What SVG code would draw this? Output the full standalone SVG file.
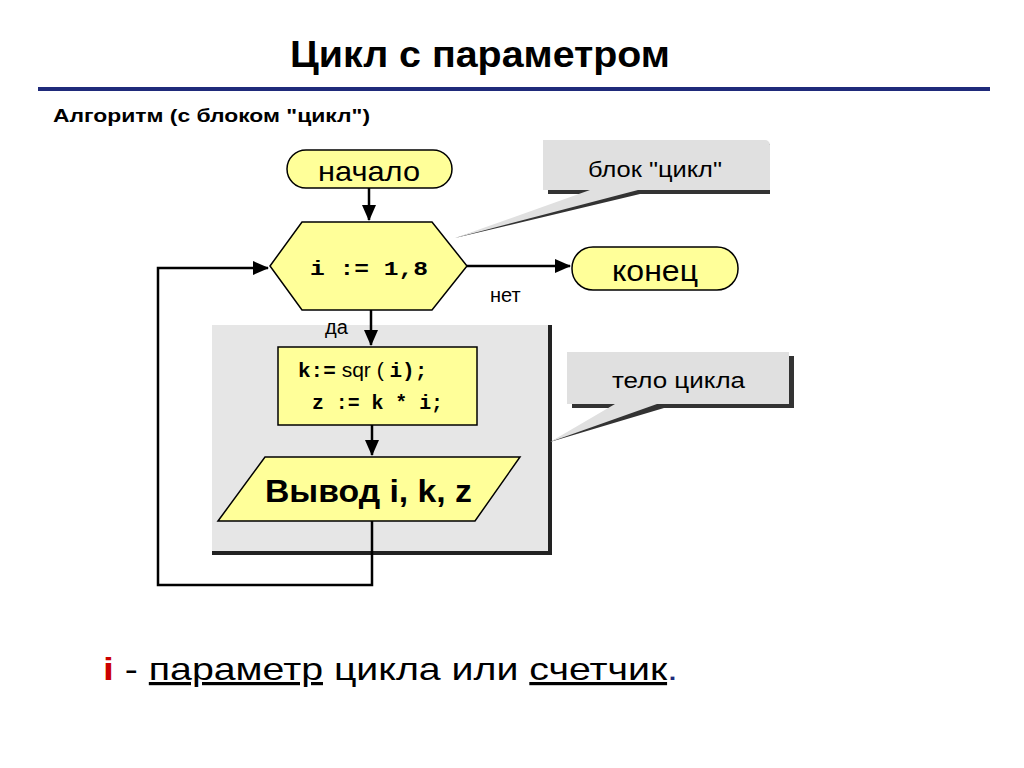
<svg xmlns="http://www.w3.org/2000/svg" width="1024" height="768" viewBox="0 0 1024 768">
<style>
.s{font-family:"Liberation Sans",Arial,sans-serif}
.m{font-family:"Liberation Mono","Courier New",monospace;font-weight:bold}
.y{fill:#ffff99;stroke:#000;stroke-width:1.5}
.l{stroke:#000;stroke-width:2.5;fill:none}
</style>
<defs><marker id="b" markerWidth="16" markerHeight="14" refX="15" refY="7" orient="auto" markerUnits="userSpaceOnUse"><path d="M0,0L16,7L0,14z"/></marker></defs>
<rect width="1024" height="768" fill="#fff"/>
<text x="290" y="67" class="s" font-size="36" font-weight="bold" textLength="380" lengthAdjust="spacingAndGlyphs">Цикл с параметром</text>
<rect x="38" y="87" width="952" height="4" fill="#1f2a7a"/>
<text x="53" y="122" class="s" font-size="19" font-weight="bold" textLength="317" lengthAdjust="spacingAndGlyphs">Алгоритм (с блоком "цикл")</text>
<g id="body"><rect x="212" y="325" width="340" height="230" fill="#222"/><rect x="212" y="325" width="336" height="226" fill="#e6e6e6"/></g>
<g id="callout1"><path d="M548,144 h222 v50 h-130 L455,238 L595,194 h-47z" fill="#333"/><path d="M543,140 h222 a5,5 0 0 1 5,5 v45 h-132 L455,238 L590,190 h-47z" fill="#e0e0e0"/><rect x="543" y="140" width="222" height="50" rx="6" fill="#e0e0e0"/><text x="588" y="177" class="s" font-size="22" textLength="134" lengthAdjust="spacingAndGlyphs">блок "цикл"</text></g>
<g id="callout2"><path d="M572,356 h222 v52 h-130 L550,442 L620,408 h-48z" fill="#333"/><path d="M567,352 h222 v52 h-132 L550,442 L615,404 h-48z" fill="#e0e0e0"/><rect x="567" y="352" width="222" height="52" rx="6" fill="#e0e0e0"/><text x="612" y="388" class="s" font-size="22" textLength="133" lengthAdjust="spacingAndGlyphs">тело цикла</text></g>
<g id="connectors">
<path class="l" d="M369,188 V220" marker-end="url(#b)"/>
<path class="l" d="M467,266 H570" marker-end="url(#b)"/>
<path class="l" d="M371,310 V345" marker-end="url(#b)"/>
<path class="l" d="M372,425 V455" marker-end="url(#b)"/>
<path class="l" d="M372,521 V585 H158 V268 H268" marker-end="url(#b)"/>
</g>
<g id="start"><rect x="287" y="150" width="165" height="38" rx="19" class="y"/><text x="318" y="181" class="s" font-size="28" textLength="102" lengthAdjust="spacingAndGlyphs">начало</text></g>
<g id="loop"><path d="M270,266 L302,222 H432 L467,266 L432,310 H302z" class="y"/><text x="310" y="275" class="m" font-size="21" xml:space="preserve" textLength="118" lengthAdjust="spacingAndGlyphs">i := 1,8</text></g>
<g id="end"><rect x="572" y="247" width="166" height="43" rx="21" class="y"/><text x="612" y="281" class="s" font-size="30" textLength="86" lengthAdjust="spacingAndGlyphs">конец</text></g>
<text x="490" y="302" class="s" font-size="20">нет</text>
<text x="325" y="334" class="s" font-size="20">да</text>
<g id="proc"><rect x="278" y="347" width="199" height="78" class="y"/>
<text x="298" y="377" font-size="21"><tspan class="m">k:=</tspan><tspan class="s"> sqr ( </tspan><tspan class="m">i);</tspan></text>
<text x="312" y="409" class="m" font-size="20" xml:space="preserve" textLength="131" lengthAdjust="spacingAndGlyphs">z := k * i;</text></g>
<g id="out"><path d="M218,521 L265,457 H520 L475,521z" class="y"/><text x="265" y="502" class="s" font-size="32" font-weight="bold" textLength="207" lengthAdjust="spacingAndGlyphs">Вывод i, k, z</text></g>
<text x="103" y="680" class="s" font-size="32" textLength="575" lengthAdjust="spacingAndGlyphs"><tspan fill="#cc0000" font-weight="bold">i</tspan> - <tspan text-decoration="underline">параметр</tspan> цикла или <tspan text-decoration="underline">счетчик</tspan><tspan fill="#1f2a7a">.</tspan></text>
</svg>
